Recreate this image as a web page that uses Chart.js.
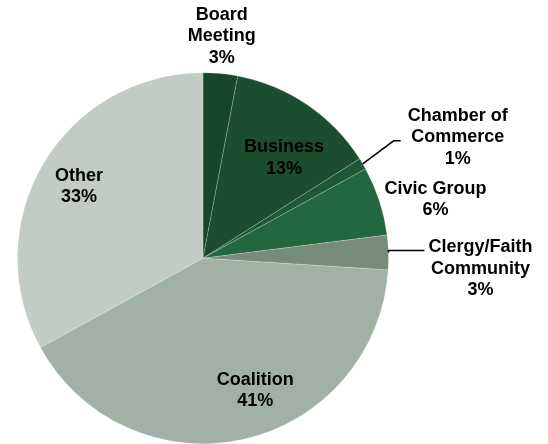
<!DOCTYPE html>
<html>
<head>
<meta charset="utf-8">
<script src="https://cdn.jsdelivr.net/npm/chart.js@4.4.0/dist/chart.umd.min.js"></script>
<style>
    html, body { margin: 0; padding: 0; background: #ffffff; }
    #wrap { width: 548px; height: 444px; position: relative; }
</style>
</head>
<body>
<div id="wrap"><canvas id="pieSources"></canvas></div>
<script>
    "use strict";

    // podiel zdrojov v percentach, v smere hodinovych ruciciek od vrchu
    const categories = ["Board\nMeeting", "Business", "Chamber of\nCommerce", "Civic Group", "Clergy/Faith\nCommunity", "Coalition", "Other"];
    const shares = [3, 13, 1, 6, 3, 41, 33];
    const sliceColors = ["#15472a", "#1a4e2f", "#1d5934", "#22673e", "#778b7c", "#a2b1a6", "#c2cbc4"];

    // umiestnenie popisiek: r = nasobok polomeru, dx/dy = posun, leader = ciara k vysecu
    const labelPlace = [
        {r: 1.19, dx: -2, dy: -2},
        {r: 0.70, dx: 8, dy: 7},
        {leader: [31, -23, 7], gap: 7, firstLine: -25},
        {r: 1.29, dx: 5, dy: 15},
        {leader: [0, -2, 36], gap: 4, firstLine: -3},
        {r: 0.77, dx: 21, dy: -7},
        {r: 0.77, dx: -1, dy: 1}
    ];

    const FONT = "bold 18px 'Liberation Sans', Arial, sans-serif";
    const LINE_H = 21.5;

    const pieLabels = {
        id: "pieLabels",
        afterDatasetsDraw(chart) {
            const ctx = chart.ctx;
            const arcs = chart.getDatasetMeta(0).data;
            ctx.save();
            ctx.font = FONT;
            ctx.fillStyle = "#000000";
            ctx.textBaseline = "middle";
            ctx.textAlign = "center";
            arcs.forEach(function (arc, i) {
                const p = labelPlace[i];
                const lines = categories[i].split("\n");
                lines.push(Math.round(shares[i]) + "%");
                const mid = (arc.startAngle + arc.endAngle) / 2;
                const R = arc.outerRadius;
                let cx, firstY;
                if (p.leader) {
                    const ex = arc.x + R * Math.cos(mid);
                    const ey = arc.y + R * Math.sin(mid);
                    const kx = ex + p.leader[0];
                    const ky = ey + p.leader[1];
                    const lx = kx + p.leader[2];
                    ctx.strokeStyle = "#000000";
                    ctx.lineWidth = 1.5;
                    ctx.beginPath();
                    ctx.moveTo(ex, ey);
                    ctx.lineTo(kx, ky);
                    ctx.lineTo(lx, ky);
                    ctx.stroke();
                    let w = 0;
                    lines.forEach(function (t) { w = Math.max(w, ctx.measureText(t).width); });
                    cx = lx + p.gap + w / 2;
                    firstY = ky + p.firstLine;
                } else {
                    cx = arc.x + p.r * R * Math.cos(mid) + p.dx;
                    const cy = arc.y + p.r * R * Math.sin(mid) + p.dy;
                    firstY = cy - (lines.length - 1) * LINE_H / 2;
                }
                lines.forEach(function (t, j) {
                    ctx.fillText(t, cx, firstY + j * LINE_H);
                });
            });
            ctx.restore();
        }
    };

    const ctx = document.getElementById("pieSources");
    const myChart = new Chart(ctx, {
        type: 'pie',
        data: {
            labels: categories,
            datasets: [{
                data: shares,
                backgroundColor: sliceColors,
                borderColor: "rgba(255,255,255,0.35)",
                borderWidth: 0.6
            }]
        },
        options: {
            responsive: true,
            maintainAspectRatio: false,
            animation: false,
            radius: 185.5,
            layout: {
                padding: {left: 17.5, top: 72.5, right: 159.5, bottom: 0}
            },
            plugins: {
                legend: {display: false},
                tooltip: {enabled: false}
            }
        },
        plugins: [pieLabels]
    });
</script>
</body>
</html>
